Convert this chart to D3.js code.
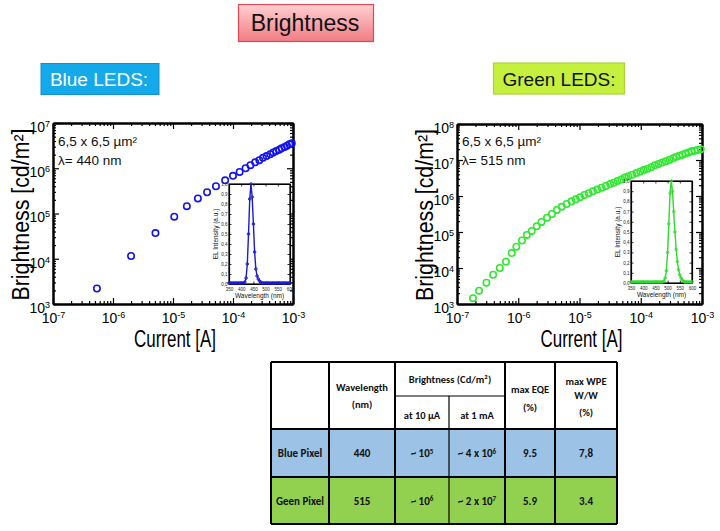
<!DOCTYPE html>
<html><head><meta charset="utf-8">
<script src="https://cdn.jsdelivr.net/npm/d3@7"></script>
<style>
body{margin:0;background:#fff;}
svg{display:block;font-family:Arial,"Liberation Sans",sans-serif;}
</style>
</head><body>
<svg id="c" width="720" height="531"></svg>
<script>
// ---------------- DATA ----------------
const xTickExps = [-7, -6, -5, -4, -3];
const blueYTickExps = [3, 4, 5, 6, 7];
const greenYTickExps = [3, 4, 5, 6, 7, 8];

const blueCurrent = [5.4e-7, 2.0e-6, 5.1e-6, 1.05e-5, 1.7e-5, 2.6e-5, 3.7e-5, 5.2e-5, 7.4e-5, 1.0e-4,
  1.29e-4, 1.62e-4, 1.95e-4, 2.34e-4, 2.75e-4, 3.16e-4, 3.63e-4, 4.17e-4, 4.68e-4, 5.25e-4,
  5.89e-4, 6.46e-4, 7.24e-4, 7.94e-4, 8.71e-4, 9.55e-4];
const blueBrightness = [2.2e3, 1.15e4, 3.7e4, 8.5e4, 1.45e5, 2.15e5, 2.95e5, 4.0e5, 5.4e5, 6.8e5,
  8.3e5, 1.0e6, 1.17e6, 1.35e6, 1.51e6, 1.7e6, 1.86e6, 2.04e6, 2.24e6, 2.4e6,
  2.57e6, 2.75e6, 2.95e6, 3.16e6, 3.39e6, 3.55e6];

const greenCurrent = [1.82e-7, 2.29e-7, 3.02e-7, 3.89e-7, 5.0e-7, 6.3e-7, 7.8e-7, 9.3e-7, 1.15e-6, 1.38e-6,
  1.66e-6, 2.0e-6, 2.4e-6, 2.95e-6, 3.55e-6, 4.27e-6, 5.13e-6, 6.17e-6, 7.4e-6, 8.7e-6,
  1.02e-5, 1.2e-5, 1.41e-5, 1.66e-5, 1.95e-5, 2.29e-5, 2.69e-5, 3.16e-5, 3.63e-5, 4.17e-5,
  4.79e-5, 5.5e-5, 6.3e-5, 7.24e-5, 8.5e-5, 9.8e-5, 1.12e-4, 1.29e-4, 1.48e-4, 1.7e-4,
  1.95e-4, 2.24e-4, 2.57e-4, 2.95e-4, 3.39e-4, 3.8e-4, 4.27e-4, 4.79e-4, 5.37e-4, 6.03e-4,
  6.76e-4, 7.59e-4, 8.5e-4, 9.55e-4];
const greenBrightness = [1.45e3, 2.34e3, 3.9e3, 6.5e3, 1.0e4, 1.5e4, 2.6e4, 3.9e4, 5.8e4, 8.3e4,
  1.07e5, 1.45e5, 1.9e5, 2.5e5, 3.16e5, 4.1e5, 5.0e5, 6.0e5, 7.1e5, 8.1e5,
  9.3e5, 1.07e6, 1.2e6, 1.35e6, 1.51e6, 1.7e6, 1.9e6, 2.14e6, 2.34e6, 2.63e6,
  2.88e6, 3.24e6, 3.55e6, 3.9e6, 4.37e6, 4.8e6, 5.25e6, 5.75e6, 6.3e6, 7.1e6,
  7.8e6, 8.5e6, 9.3e6, 1.02e7, 1.12e7, 1.23e7, 1.32e7, 1.41e7, 1.51e7, 1.62e7,
  1.74e7, 1.82e7, 1.9e7, 2.0e7];

const spectrumWavelength = [350,355,360,365,370,375,380,385,390,395,400,405,410,415,420,425,430,435,440,445,
  450,455,460,465,470,475,480,485,490,495,500,505,510,515,520,525,530,535,540,545,
  550,555,560,565,570,575,580,585,590,595,600];
const blueSpectrum = [0.01,0.01,0.01,0.01,0.01,0.01,0.01,0.01,0.01,0.01,0.01,0.01,0.01,0.02,0.06,0.2,0.5,0.85,1.0,0.87,
  0.6,0.32,0.15,0.08,0.05,0.03,0.02,0.01,0.01,0.01,0.01,0.01,0.01,0.01,0.01,0.01,0.01,0.01,0.01,0.01,
  0.01,0.01,0.01,0.01,0.01,0.01,0.01,0.01,0.01,0.01,0.01];
const greenSpectrum = [0.01,0.01,0.01,0.01,0.01,0.01,0.01,0.01,0.01,0.01,0.01,0.01,0.01,0.01,0.01,0.01,0.01,0.01,0.01,0.01,
  0.01,0.01,0.01,0.01,0.01,0.01,0.01,0.02,0.05,0.12,0.3,0.58,0.88,1.0,0.9,0.7,0.5,0.33,0.21,0.13,
  0.08,0.05,0.03,0.02,0.01,0.01,0.01,0.01,0.01,0.01,0.01];
const insetXTicks = [350, 400, 450, 500, 550, 600];
const insetYTicks = [0, 0.1, 0.2, 0.3, 0.4, 0.5, 0.6, 0.7, 0.8, 0.9, 1.0];

const tableRowNames = ["Blue Pixel", "Geen Pixel"];
const tableWavelength = ["440", "515"];
const tableAt10uA = [["~ 10", "5"], ["~ 10", "6"]];
const tableAt1mA = [["~ 4 x 10", "6"], ["~ 2 x 10", "7"]];
const tableMaxEQE = ["9.5", "5.9"];
const tableMaxWPE = ["7,8", "3.4"];

// ---------------- DRAWING ----------------
const svg = d3.select('#c');

const defs = svg.append('defs');
const grad = defs.append('linearGradient').attr('id', 'pinkGrad').attr('x1', 0).attr('y1', 0).attr('x2', 0).attr('y2', 1);
grad.append('stop').attr('offset', '0%').attr('stop-color', '#ffd0d2');
grad.append('stop').attr('offset', '100%').attr('stop-color', '#f07c84');

svg.append('rect').attr('x', 238.5).attr('y', 4.5).attr('width', 135).attr('height', 37)
  .attr('fill', 'url(#pinkGrad)').attr('stroke', '#e04858').attr('stroke-width', 1.2);
svg.append('text').attr('x', 305).attr('y', 31).attr('text-anchor', 'middle')
  .attr('font-size', 23).attr('fill', '#111').text('Brightness');

svg.append('rect').attr('x', 41).attr('y', 63.5).attr('width', 118).attr('height', 31)
  .attr('fill', '#14a9e9').attr('stroke', '#1090d0').attr('stroke-width', 1);
svg.append('text').attr('x', 99).attr('y', 86).attr('text-anchor', 'middle')
  .attr('font-size', 19).attr('fill', '#fff').text('Blue LEDS:');

svg.append('rect').attr('x', 493.5).attr('y', 63).attr('width', 131).attr('height', 31)
  .attr('fill', '#c6f03e').attr('stroke', '#a8d43a').attr('stroke-width', 1.2);
svg.append('text').attr('x', 559).attr('y', 86).attr('text-anchor', 'middle')
  .attr('font-size', 19).attr('fill', '#111').text('Green LEDS:');

function supLabels(sel, size, supSize) {
  sel.selectAll('.tick text').each(function (d) {
    const t = d3.select(this);
    t.text(null).attr('font-size', size).attr('fill', '#000');
    t.append('tspan').text('10');
    t.append('tspan').attr('dy', '-0.55em').attr('font-size', supSize).text(Math.round(Math.log10(d)));
  });
}

function styleAxis(g) {
  g.select('.domain').attr('stroke', '#000').attr('stroke-width', 2);
  g.selectAll('.tick line').attr('stroke', '#000').attr('stroke-width', 1.2);
}

function panel(o) {
  const g = svg.append('g');
  const x = d3.scaleLog().domain([1e-7, 1e-3]).range([o.x0, o.x1]);
  const y = d3.scaleLog().domain(o.yDom).range([o.y1, o.y0]);
  const xMaj = xTickExps.map(e => Math.pow(10, e));
  const yMaj = o.yExps.map(e => Math.pow(10, e));
  const xMin = x.ticks().filter(v => Math.abs(Math.log10(v) - Math.round(Math.log10(v))) > 1e-6);
  const yMin = y.ticks().filter(v => Math.abs(Math.log10(v) - Math.round(Math.log10(v))) > 1e-6);

  [[d3.axisBottom(x), o.y1], [d3.axisTop(x), o.y0]].forEach(([ax, pos]) => {
    g.append('g').attr('transform', `translate(0,${pos})`)
      .call(ax.tickValues(xMin).tickSize(-3).tickSizeOuter(0).tickFormat(() => ''))
      .call(styleAxis);
  });
  [[d3.axisLeft(y), o.x0], [d3.axisRight(y), o.x1]].forEach(([ax, pos]) => {
    g.append('g').attr('transform', `translate(${pos},0)`)
      .call(ax.tickValues(yMin).tickSize(-3).tickSizeOuter(0).tickFormat(() => ''))
      .call(styleAxis);
  });
  const bx = g.append('g').attr('transform', `translate(0,${o.y1})`)
    .call(d3.axisBottom(x).tickValues(xMaj).tickSize(-6).tickSizeOuter(0).tickPadding(6))
    .call(styleAxis);
  bx.selectAll('.tick text').attr('dy', '0.95em');
  supLabels(bx, 14, 9);
  g.append('g').attr('transform', `translate(0,${o.y0})`)
    .call(d3.axisTop(x).tickValues(xMaj).tickSize(-6).tickSizeOuter(0).tickFormat(() => ''))
    .call(styleAxis);
  const ly = g.append('g').attr('transform', `translate(${o.x0},0)`)
    .call(d3.axisLeft(y).tickValues(yMaj).tickSize(-6).tickSizeOuter(0).tickPadding(3))
    .call(styleAxis);
  ly.selectAll('.tick text').attr('dy', '0.6em');
  supLabels(ly, 14, 9);
  g.append('g').attr('transform', `translate(${o.x1},0)`)
    .call(d3.axisRight(y).tickValues(yMaj).tickSize(-6).tickSizeOuter(0).tickFormat(() => ''))
    .call(styleAxis);
  g.selectAll('.domain').attr('stroke-width', 2);

  g.append('g').selectAll('circle').data(o.cur.map((c, i) => [c, o.bri[i]])).join('circle')
    .attr('cx', d => x(d[0])).attr('cy', d => y(d[1])).attr('r', 3.2)
    .attr('fill', 'none').attr('stroke', o.color).attr('stroke-width', 1.6);

  g.append('text').attr('x', o.x0 + 5).attr('y', 146).attr('font-size', 13.5).attr('fill', '#111').text('6,5 x 6,5 µm²');
  g.append('text').attr('x', o.x0 + 5).attr('y', 165).attr('font-size', 13.5).attr('fill', '#111').text('λ= ' + o.lambda + ' nm');

  g.append('text').attr('x', (o.x0 + o.x1) / 2 + 2).attr('y', 347).attr('text-anchor', 'middle')
    .attr('font-size', 23).attr('textLength', 82).attr('lengthAdjust', 'spacingAndGlyphs').text('Current [A]');
  g.append('text').attr('transform', `translate(${o.x0 - 24},${(o.y0 + o.y1) / 2 + 1}) rotate(-90)`)
    .attr('text-anchor', 'middle').attr('font-size', 23)
    .attr('textLength', 172).attr('lengthAdjust', 'spacingAndGlyphs').text('Brightness [cd/m²]');

  // inset
  const ix = d3.scaleLinear().domain([350, 600]).range([o.ix0, o.ix1]);
  const iy = d3.scaleLinear().domain([0, 1.0]).range([o.iy1, o.iy0]);
  const ig = g.append('g');
  ig.append('rect').attr('x', o.ix0).attr('y', o.iy0).attr('width', o.ix1 - o.ix0).attr('height', o.iy1 - o.iy0)
    .attr('fill', '#fff').attr('stroke', '#000').attr('stroke-width', 1.2);
  ig.append('g').attr('transform', `translate(0,${o.iy1})`)
    .call(d3.axisBottom(ix).tickValues(insetXTicks).tickSize(-2.5).tickSizeOuter(0).tickPadding(3.5).tickFormat(d => d));
  ig.append('g').attr('transform', `translate(${o.ix0},0)`)
    .call(d3.axisLeft(iy).tickValues(insetYTicks).tickSize(-2.5).tickSizeOuter(0).tickPadding(1.5).tickFormat(d => d3.format('.1f')(d).replace('.', ',')));
  ig.append('g').attr('transform', `translate(${o.ix1},0)`)
    .call(d3.axisRight(iy).tickValues(insetYTicks).tickSize(-2.5).tickSizeOuter(0).tickFormat(() => ''));
  ig.append('g').attr('transform', `translate(0,${o.iy0})`)
    .call(d3.axisTop(ix).tickValues(insetXTicks).tickSize(-2.5).tickSizeOuter(0).tickFormat(() => ''));
  ig.selectAll('.domain').attr('stroke', '#000').attr('stroke-width', 1.2);
  ig.selectAll('.tick line').attr('stroke', '#000').attr('stroke-width', 0.8);
  ig.selectAll('.tick text').attr('font-size', 4.5).attr('fill', '#222');
  ig.append('text').attr('transform', `translate(${o.ix0 - 11},${(o.iy0 + o.iy1) / 2}) rotate(-90)`)
    .attr('text-anchor', 'middle').attr('font-size', 6.5).attr('fill', '#111').text('EL Intensity (a.u.)');
  ig.append('text').attr('x', (o.ix0 + o.ix1) / 2).attr('y', o.iy1 + 14).attr('text-anchor', 'middle')
    .attr('font-size', 6.5).attr('fill', '#111').text('Wavelength (nm)');
  const sp = spectrumWavelength.map((w, i) => [w, o.spec[i]]);
  ig.append('path').datum(sp).attr('d', d3.line().x(d => ix(d[0])).y(d => iy(d[1])))
    .attr('fill', 'none').attr('stroke', o.lineColor).attr('stroke-width', 1.4);
  ig.append('g').selectAll('circle').data(sp).join('circle')
    .attr('cx', d => ix(d[0])).attr('cy', d => iy(d[1])).attr('r', 1.3)
    .attr('fill', 'none').attr('stroke', o.lineColor).attr('stroke-width', 0.9);
}

panel({x0: 53, x1: 293, y0: 123, y1: 304, yDom: [1e3, 1e7], yExps: blueYTickExps,
  cur: blueCurrent, bri: blueBrightness, color: '#1414f0', lambda: '440',
  ix0: 229, ix1: 290, iy0: 184, iy1: 284, spec: blueSpectrum, lineColor: '#1a1ad0'});
panel({x0: 457, x1: 702, y0: 124, y1: 304, yDom: [1e3, 1e8], yExps: greenYTickExps,
  cur: greenCurrent, bri: greenBrightness, color: '#30e830', lambda: '515',
  ix0: 631, ix1: 692, iy0: 181, iy1: 283, spec: greenSpectrum, lineColor: '#30d830'});

// ---------------- TABLE ----------------
const colX = [271, 329, 395, 449, 505, 555, 617];
const rowY = [362, 429, 477, 524];
const subY = 396;
const tg = svg.append('g').attr('font-family', 'Carlito, Lato, "Open Sans", sans-serif');
tg.append('rect').attr('x', colX[0]).attr('y', rowY[0]).attr('width', colX[6] - colX[0]).attr('height', rowY[1] - rowY[0]).attr('fill', '#fff');
tg.append('rect').attr('x', colX[0]).attr('y', rowY[1]).attr('width', colX[6] - colX[0]).attr('height', rowY[2] - rowY[1]).attr('fill', '#9cc2e6');
tg.append('rect').attr('x', colX[0]).attr('y', rowY[2]).attr('width', colX[6] - colX[0]).attr('height', rowY[3] - rowY[2]).attr('fill', '#92d050');
rowY.forEach(yv => tg.append('line').attr('x1', colX[0]).attr('x2', colX[6]).attr('y1', yv).attr('y2', yv).attr('stroke', '#000').attr('stroke-width', 2));
colX.forEach((xv, i) => tg.append('line').attr('x1', xv).attr('x2', xv).attr('y1', i === 3 ? subY : rowY[0]).attr('y2', rowY[3]).attr('stroke', '#000').attr('stroke-width', i === 3 ? 1.2 : 2));
tg.append('line').attr('x1', colX[2]).attr('x2', colX[4]).attr('y1', subY).attr('y2', subY).attr('stroke', '#000').attr('stroke-width', 1.2);

function cellText(cx, cy, str, opts = {}) {
  const t = tg.append('text').attr('x', cx).attr('y', cy).attr('text-anchor', 'middle')
    .attr('font-size', opts.size || 11).attr('font-weight', opts.bold ? 'bold' : 'normal').attr('fill', '#111');
  if (Array.isArray(str)) {
    t.append('tspan').text(str[0]);
    t.append('tspan').attr('dy', '-0.5em').attr('font-size', 7).text(str[1]);
  } else t.text(str);
}
const mid = i => (colX[i] + colX[i + 1]) / 2;
cellText(mid(1), 391, 'Wavelength', {bold: true, size: 10.5});
cellText(mid(1), 408, '(nm)', {bold: true, size: 10.5});
cellText((colX[2] + colX[4]) / 2, 383, 'Brightness (Cd/m²)', {bold: true, size: 10.5});
cellText(mid(2), 419, 'at 10 µA', {bold: true, size: 10.5});
cellText(mid(3), 419, 'at 1 mA', {bold: true, size: 10.5});
cellText(mid(4), 393, 'max EQE', {bold: true, size: 10.5});
cellText(mid(4), 411, '(%)', {bold: true, size: 10.5});
cellText(mid(5), 385, 'max WPE', {bold: true, size: 10.5});
cellText(mid(5), 399, 'W/W', {bold: true, size: 10.5});
cellText(mid(5), 416, '(%)', {bold: true, size: 10.5});

[0, 1].forEach(r => {
  const cy = (rowY[r + 1] + rowY[r + 2]) / 2 + 4;
  cellText(mid(0), cy, tableRowNames[r], {bold: true});
  cellText(mid(1), cy, tableWavelength[r], {bold: true});
  cellText(mid(2), cy, tableAt10uA[r], {bold: true});
  cellText(mid(3), cy, tableAt1mA[r], {bold: true});
  cellText(mid(4), cy, tableMaxEQE[r], {bold: true});
  cellText(mid(5), cy, tableMaxWPE[r], {bold: true});
});
</script>
</body></html>
